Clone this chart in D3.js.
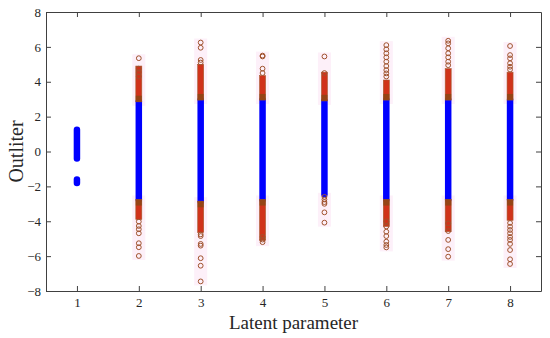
<!DOCTYPE html>
<html>
<head>
<meta charset="utf-8">
<script src="https://cdn.jsdelivr.net/npm/d3@7/dist/d3.min.js"></script>
<style>
  body { margin: 0; background: #fff; }
  svg text { font-family: "Liberation Serif", "Times New Roman", serif; fill: #262626; }
</style>
</head>
<body>
<div id="chart"></div>
<script>
// latent parameter categories on the x axis
var params = [1, 2, 3, 4, 5, 6, 7, 8];
var yTicks = [-8, -6, -4, -2, 0, 2, 4, 6, 8];

// inlier ranges drawn as dense blue dots: [param, low, high]
var inlierRanges = [
    [1, -0.4, 1.25], [1, -1.8, -1.6],
    [2, -2.75, 2.85], [3, -2.85, 2.95], [4, -2.75, 2.95], [5, -2.45, 2.9],
    [6, -2.75, 2.95], [7, -2.75, 2.95], [8, -2.75, 2.95]
];

// dense outlier bands (red filled markers): [param, low, high]
var outlierBands = [
    [2, 2.85, 4.9], [2, -3.9, -2.75],
    [3, 2.95, 5.0], [3, -4.65, -2.85],
    [4, 2.95, 4.35], [4, -5.1, -2.75],
    [5, 2.9, 4.55],
    [6, 2.95, 4.1], [6, -4.3, -2.75],
    [7, 2.95, 4.75], [7, -4.6, -2.75],
    [8, 2.95, 4.55], [8, -3.95, -2.75]
];

// single outliers drawn as open circles, one list per parameter
var outliers2 = [5.35, 4.75, 4.55, 4.3, -4.02, -4.27, -4.46, -4.69, -5.26, -5.49, -5.99];
var outliers3 = [6.25, 5.95, 5.25, 5.1, -4.75, -4.85, -5.3, -5.4, -6.12, -6.55, -7.45];
var outliers4 = [5.5, 5.45, 4.75, 4.5, -4.9, -5.05, -5.2];
var outliers5 = [5.45, 4.5, -2.6, -2.75, -2.9, -3.0, -3.49, -4.08];
var outliers6 = [6.1, 5.86, 5.63, 5.4, 5.15, 4.9, 4.67, 4.48, 4.3, -4.0, -4.3, -4.6, -4.85, -5.17, -5.36, -5.5];
var outliers7 = [6.35, 6.2, 5.92, 5.63, 5.4, 5.15, 4.95, -4.12, -4.56, -5.07, -5.6, -6.03];
var outliers8 = [6.05, 5.53, 5.34, 5.06, 4.86, 4.7, -4.1, -4.31, -4.5, -4.69, -4.9, -5.07, -5.3, -5.65, -6.18, -6.45];

var outlierLists = [[2, outliers2], [3, outliers3], [4, outliers4], [5, outliers5],
                    [6, outliers6], [7, outliers7], [8, outliers8]];

// flatten to points
var outlierPoints = [];
outlierLists.forEach(function(d) {
    d[1].forEach(function(v) { outlierPoints.push({ x: d[0], y: v }); });
});

/*  ****************  SVG + SCALES  **************** */
var svgWidth = 550, svgHeight = 338;
var margin = { top: 12, right: 9, bottom: 47, left: 46 };
var width = svgWidth - margin.left - margin.right;
var height = svgHeight - margin.top - margin.bottom;

var svg = d3.select("#chart").append("svg")
    .attr("width", svgWidth)
    .attr("height", svgHeight);

var g = svg.append("g")
    .attr("transform", `translate(${margin.left}, ${margin.top})`);

var xScale = d3.scaleLinear().domain([0.5, 8.5]).range([0, width]);
var yScale = d3.scaleLinear().domain([-8, 8]).range([height, 0]);

// faint pink halo behind every outlier group (jpeg look of the original)
var halos = [];
params.forEach(function(p) {
    var ups = [], downs = [];
    outlierBands.filter(b => b[0] === p).forEach(function(b) {
        if (b[2] > 0) ups.push(b[1], b[2]); else downs.push(b[1], b[2]);
    });
    outlierPoints.filter(d => d.x === p).forEach(function(d) {
        if (d.y > 0) ups.push(d.y); else downs.push(d.y);
    });
    if (ups.length) halos.push([p, d3.min(ups), d3.max(ups)]);
    if (downs.length) halos.push([p, d3.min(downs), d3.max(downs)]);
});

g.selectAll(".halo")
    .data(halos)
    .enter()
    .append("rect")
    .attr("class", "halo")
    .attr("x", d => xScale(d[0]) - 6.5)
    .attr("width", 13)
    .attr("y", d => yScale(d[2]) - 4)
    .attr("height", d => yScale(d[1]) - yScale(d[2]) + 8)
    .attr("fill", "#fdf0f9");

// inliers
g.selectAll(".inlier")
    .data(inlierRanges)
    .enter()
    .append("line")
    .attr("class", "inlier")
    .attr("x1", d => xScale(d[0]))
    .attr("x2", d => xScale(d[0]))
    .attr("y1", d => yScale(d[1]))
    .attr("y2", d => yScale(d[2]))
    .attr("stroke", "#0000ff")
    .attr("stroke-width", 6.5)
    .attr("stroke-linecap", "round");

// dense outlier bands
g.selectAll(".band")
    .data(outlierBands)
    .enter()
    .append("rect")
    .attr("class", "band")
    .attr("x", d => xScale(d[0]) - 3)
    .attr("width", 6)
    .attr("y", d => yScale(d[2]))
    .attr("height", d => yScale(d[1]) - yScale(d[2]))
    .attr("fill", "#d0321a")
    .attr("stroke", "#a65a30")
    .attr("stroke-width", 0.6);

// darker overlap next to the inliers
g.selectAll(".bandEdge")
    .data(outlierBands)
    .enter()
    .append("rect")
    .attr("class", "bandEdge")
    .attr("x", d => xScale(d[0]) - 3)
    .attr("width", 6)
    .attr("y", d => d[2] > 0 ? yScale(d[1] + 0.35) : yScale(d[2]))
    .attr("height", yScale(0) - yScale(0.35))
    .attr("fill", "#7e4a14")
    .attr("opacity", 0.7);

// single outliers
g.selectAll(".outlier")
    .data(outlierPoints)
    .enter()
    .append("circle")
    .attr("class", "outlier")
    .attr("cx", d => xScale(d.x))
    .attr("cy", d => yScale(d.y))
    .attr("r", 2.4)
    .attr("fill", "none")
    .attr("stroke", "#a0522d")
    .attr("stroke-width", 1);

/*  ****************  AXES  **************** */
var axisColor = "#404040";

var bottomAxis = d3.axisBottom(xScale).tickValues(params).tickFormat(d3.format("d"))
    .tickSizeInner(-5).tickSizeOuter(0).tickPadding(7);
var topAxis = d3.axisTop(xScale).tickValues(params).tickFormat("")
    .tickSizeInner(-5).tickSizeOuter(0);
var leftAxis = d3.axisLeft(yScale).tickValues(yTicks)
    .tickSizeInner(-5).tickSizeOuter(0).tickPadding(5);
var rightAxis = d3.axisRight(yScale).tickValues(yTicks).tickFormat("")
    .tickSizeInner(-5).tickSizeOuter(0);

var axes = [
    g.append("g").attr("transform", `translate(0, ${height})`).call(bottomAxis),
    g.append("g").call(topAxis),
    g.append("g").call(leftAxis),
    g.append("g").attr("transform", `translate(${width}, 0)`).call(rightAxis)
];
axes.forEach(function(a) {
    a.attr("font-family", "Liberation Serif");
    a.selectAll("path, line").attr("stroke", axisColor).attr("stroke-width", 1);
    a.selectAll("text").attr("font-size", 13).attr("fill", "#262626");
});

// axis labels
g.append("text")
    .attr("x", width / 2)
    .attr("y", height + 38)
    .attr("text-anchor", "middle")
    .attr("font-size", 19)
    .text("Latent parameter");

svg.append("text")
    .attr("transform", "rotate(-90)")
    .attr("x", -(margin.top + height / 2))
    .attr("y", 23)
    .attr("text-anchor", "middle")
    .attr("font-size", 20)
    .text("Outliter");
</script>
</body>
</html>
